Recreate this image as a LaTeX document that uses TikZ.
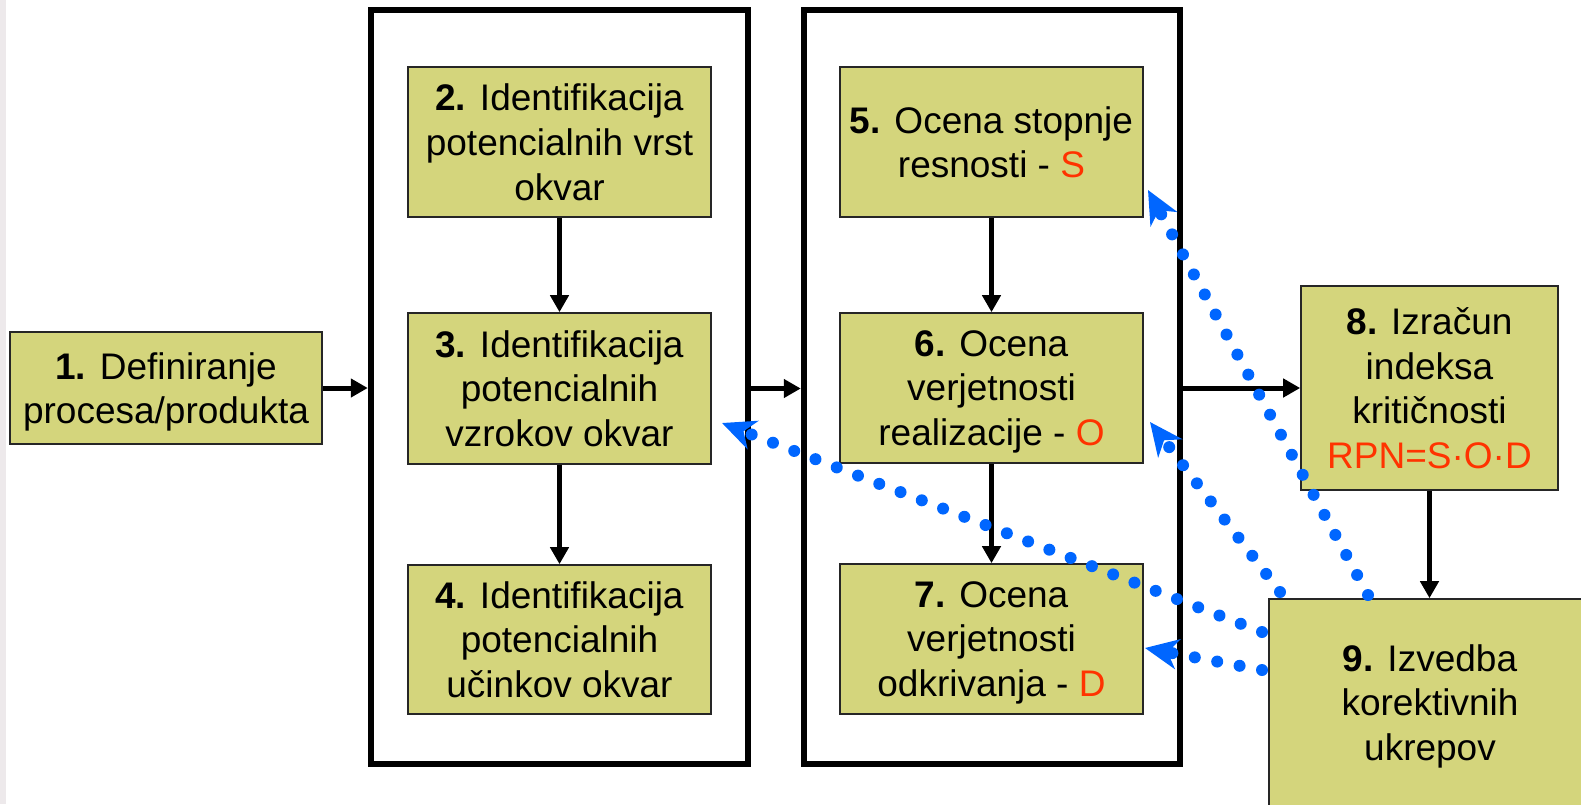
\documentclass[tikz,border=0pt]{standalone}
\usepackage{fontspec}
\setmainfont{Liberation Sans}
\usetikzlibrary{arrows.meta,fit}
\definecolor{boxfill}{RGB}{212,213,124}
\definecolor{dotblue}{RGB}{0,102,255}
\definecolor{redtxt}{RGB}{255,51,0}
\definecolor{strip}{RGB}{237,233,235}
\begin{document}
\begin{tikzpicture}[x=0.5pt,y=-0.5pt,
 box/.style={draw=black!85, line width=0.8pt, fill=boxfill, inner sep=0pt, align=center, text depth=0pt, font=\fontsize{18.5}{22.4}\selectfont},
 frame/.style={draw=black, line width=3.2pt, inner sep=0pt},
 arr/.style={line width=2.5pt, -{Triangle[length=8.5pt,width=9pt]}},
 dotarr/.style={dotblue, line width=6pt, line cap=round, dash pattern=on 0pt off 11.4pt, -{Stealth[length=16.5pt,width=15pt,inset=5pt]}}]
\useasboundingbox (0,0) rectangle (1581,804);
\clip (0,0) rectangle (1581,804);
\fill[strip] (0,0) rectangle (6,804);
\node[frame, fit={(371,10) (748,764)}] (f1) {};
\node[frame, fit={(804,10) (1180,764)}] (f2) {};
\node[box, minimum width=156pt, minimum height=56pt] (b1) at (166,388) {\textbf{1.} Definiranje\\procesa/produkta};
\node[box, minimum width=151.5pt, minimum height=75pt] (b2) at (559.5,142) {\textbf{2.} Identifikacija\\potencialnih vrst\\okvar};
\node[box, minimum width=151.5pt, minimum height=75.5pt] (b3) at (559.5,388.5) {\textbf{3.} Identifikacija\\potencialnih\\vzrokov okvar};
\node[box, minimum width=151.5pt, minimum height=74.5pt] (b4) at (559.5,639.5) {\textbf{4.} Identifikacija\\potencialnih\\učinkov okvar};
\node[box, minimum width=151.5pt, minimum height=75pt] (b5) at (991.5,142) {\textbf{5.} Ocena stopnje\\resnosti - {\color{redtxt}S}};
\node[box, minimum width=151.5pt, minimum height=75pt] (b6) at (991.5,388) {\textbf{6.} Ocena\\verjetnosti\\realizacije - {\color{redtxt}O}};
\node[box, minimum width=151.5pt, minimum height=75pt] (b7) at (991.5,639) {\textbf{7.} Ocena\\verjetnosti\\odkrivanja - {\color{redtxt}D}};
\node[box, minimum width=128.5pt, minimum height=102pt] (b8) at (1429.5,388) {\textbf{8.} Izračun\\indeksa\\kritičnosti\\{\color{redtxt}RPN=S·O·D}};
\node[box, minimum width=161pt, minimum height=103.5pt] (b9) at (1430,702.5) {\textbf{9.} Izvedba\\korektivnih\\ukrepov};
\draw[arr] (b1.east) -- (b1.east -| f1.west);
\draw[arr] (f1.east |- b3) -- (f2.west |- b3);
\draw[arr] (f2.east |- b8) -- (b8.west);
\draw[arr] (b2) -- (b3);
\draw[arr] (b3) -- (b4);
\draw[arr] (b5) -- (b6);
\draw[arr] (b6) -- (b7);
\draw[arr] (b8.south) -- (b8.south |- b9.north);
\coordinate (s5) at (1368,595);
\coordinate (t5) at (1148,190);
\coordinate (s6) at (1280,592);
\coordinate (t6) at (1150,422);
\coordinate (s3) at (1262,632);
\coordinate (t3) at (722,423);
\coordinate (s7) at (1262,670);
\coordinate (t7) at (1145,648);
\draw[dotarr] (s5) -- (t5);
\draw[dotarr] (s6) -- (t6);
\draw[dotarr] (s3) -- (t3);
\draw[dotarr] (s7) -- (t7);
\end{tikzpicture}
\end{document}
